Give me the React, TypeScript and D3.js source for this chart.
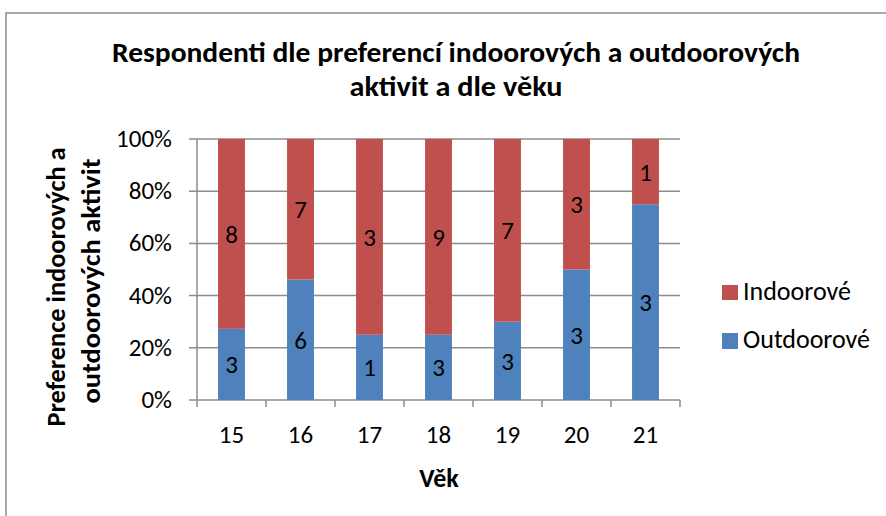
import React from 'react'
import * as d3 from 'd3'

const ages = ['15', '16', '17', '18', '19', '20', '21']
const outdoor = [3, 6, 1, 3, 3, 3, 3]
const indoor = [8, 7, 3, 9, 7, 3, 1]
const yTicks = [0, 0.2, 0.4, 0.6, 0.8, 1]

const W = 886
const H = 516
const plot = { left: 197, right: 680, top: 139, bottom: 400 }
const font = 'Carlito, Calibri, "Liberation Sans", Arial, sans-serif'
const blue = '#4f81bd'
const red = '#c0504d'

export default function App() {
  const x = d3.scaleBand().domain(ages).range([plot.left, plot.right]).paddingInner(0.61).paddingOuter(0.305)
  const y = d3.scaleLinear().domain([0, 1]).range([plot.bottom, plot.top])

  const rows = ages.map((a, i) => ({ age: a, outdoor: outdoor[i], indoor: indoor[i] }))
  const stack = d3.stack<any>().keys(['outdoor', 'indoor']).offset(d3.stackOffsetExpand)(rows)
  const colors: Record<string, string> = { outdoor: blue, indoor: red }

  const step = x.step()
  const tickXs = d3.range(ages.length + 1).map(i => plot.left + i * step)

  return (
    <svg width={W} height={H} style={{ position: 'absolute', left: 0, top: 0 }} fontFamily={font}>
      <rect x={0} y={0} width={W} height={H} fill="#fff" />
      <rect x={6} y={13} width={W + 20} height={H + 20} fill="#fff" stroke="#8c8c8c" strokeWidth={1.5} />

      <text x={456} y={62} textAnchor="middle" fontSize={28} fontWeight="bold" textLength={688} lengthAdjust="spacingAndGlyphs">
        Respondenti dle preferencí indoorových a outdoorových
      </text>
      <text x={456} y={96} textAnchor="middle" fontSize={28} fontWeight="bold" textLength={213} lengthAdjust="spacingAndGlyphs">
        aktivit a dle věku
      </text>

      {yTicks.map(t => (
        <g key={t}>
          <line x1={plot.left - 8} x2={plot.right} y1={y(t)} y2={y(t)} stroke="#8c8c8c" strokeWidth={1.5} />
          <text x={172} y={y(t) + 8} textAnchor="end" fontSize={25} fill="#000">
            {d3.format('.0%')(t)}
          </text>
        </g>
      ))}
      <line x1={plot.left} x2={plot.left} y1={plot.top} y2={plot.bottom} stroke="#8c8c8c" strokeWidth={1.5} />
      {tickXs.map((tx, i) => (
        <line key={i} x1={tx} x2={tx} y1={plot.bottom} y2={plot.bottom + 7} stroke="#8c8c8c" strokeWidth={1.5} />
      ))}

      {stack.map(s => (
        <g key={s.key}>
          {s.map((d, i) => (
            <g key={i}>
              <rect
                x={x(ages[i])}
                y={y(d[1])}
                width={x.bandwidth()}
                height={y(d[0]) - y(d[1])}
                fill={colors[s.key]}
              />
              <text
                x={x(ages[i])! + x.bandwidth() / 2}
                y={(y(d[0]) + y(d[1])) / 2 + 9}
                textAnchor="middle"
                fontSize={25}
              >
                {(d.data as any)[s.key]}
              </text>
            </g>
          ))}
        </g>
      ))}

      {ages.map(a => (
        <text key={a} x={x(a)! + x.bandwidth() / 2} y={443} textAnchor="middle" fontSize={25}>
          {a}
        </text>
      ))}
      <text x={439} y={487} textAnchor="middle" fontSize={26} fontWeight="bold">Věk</text>

      <g transform="translate(65,0) rotate(-90)">
        <text x={-287} y={0} textAnchor="middle" fontSize={26} fontWeight="bold" textLength={279} lengthAdjust="spacingAndGlyphs">
          Preference indoorových a
        </text>
        <text x={-281} y={35} textAnchor="middle" fontSize={26} fontWeight="bold" textLength={245} lengthAdjust="spacingAndGlyphs">
          outdoorových aktivit
        </text>
      </g>

      <rect x={722} y={285} width={16} height={15} fill={red} />
      <text x={743} y={300} fontSize={26}>Indoorové</text>
      <rect x={722} y={333} width={16} height={16} fill={blue} />
      <text x={743} y={348} fontSize={26}>Outdoorové</text>
    </svg>
  )
}
